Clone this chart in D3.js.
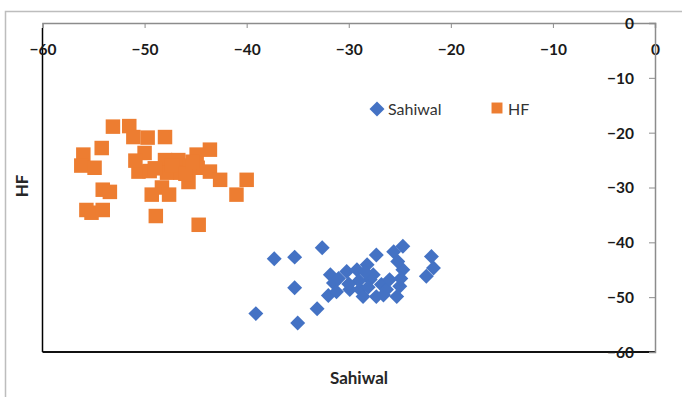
<!DOCTYPE html>
<html>
<head>
<meta charset="utf-8">
<script src="https://cdn.jsdelivr.net/npm/d3@7"></script>
<style>
  html, body { margin: 0; padding: 0; background: #fff; }
  svg { display: block; }
  text { font-family: Lato, "Open Sans", sans-serif; }
</style>
</head>
<body>
<svg id="chart" width="682" height="397"></svg>
<script>
const xTicks = [-60, -50, -40, -30, -20, -10, 0];
const yTicks = [0, -10, -20, -30, -40, -50, -60];
const seriesNames = ["Sahiwal", "HF"];

const sahiwalX = [-32.6,-37.3,-35.3,-35.3,-39.1,-35.0,-33.1,-31.8,-31.5,-32.0,-30.2,-29.2,-29.9,-28.9,-28.2,-27.3,-27.9,-27.3,-26.8,-25.6,-24.7,-24.7,-25.3,-25.0,-26.3,-21.9,-21.7,-22.4,-27.6,-28.6,-31.2,-29.0,-28.1,-26.0,-25.2,-31.0,-30.0,-26.6,-28.4,-24.9];
const sahiwalY = [-41.0,-43.0,-42.7,-48.3,-53.0,-54.7,-52.1,-45.9,-47.4,-49.7,-45.3,-45.0,-48.6,-48.6,-44.1,-42.3,-46.8,-49.9,-47.7,-41.7,-40.7,-45.0,-49.9,-48.0,-48.6,-42.6,-44.7,-46.2,-45.9,-49.9,-49.0,-47.0,-48.2,-46.8,-43.5,-46.6,-47.6,-49.6,-45.4,-46.6];

const hfX = [-56.0,-54.2,-56.2,-54.9,-54.1,-53.4,-55.7,-55.2,-54.1,-53.1,-51.5,-51.1,-49.7,-48.0,-50.0,-50.6,-48.0,-46.7,-47.8,-46.5,-45.7,-44.9,-43.6,-44.8,-43.6,-42.6,-40.0,-41.0,-48.3,-49.3,-47.6,-48.9,-44.7,-50.9,-49.5,-45.6,-47.3,-46.0,-49.0,-45.3];
const hfY = [-24.0,-22.8,-26.0,-26.4,-30.4,-30.8,-34.1,-34.6,-34.1,-18.9,-18.8,-20.8,-20.9,-20.8,-23.7,-27.1,-25.0,-25.0,-27.3,-27.3,-29.0,-24.0,-23.1,-26.4,-27.1,-28.6,-28.6,-31.3,-30.0,-31.3,-31.3,-35.2,-36.8,-25.1,-27.0,-26.0,-26.0,-27.5,-26.5,-25.3];

const svg = d3.select("#chart");
const pLeft = 42.5, pRight = 655, pTop = 23, pBottom = 352;
const x = d3.scaleLinear().domain([-60, 0]).range([pLeft, pRight]);
const y = d3.scaleLinear().domain([0, -60]).range([pTop, pBottom]);

// outer chart frame
svg.append("path")
  .attr("d", `M5.5,397 L5.5,11.5 L682,11.5`)
  .attr("fill", "none").attr("stroke", "#bdbdbd").attr("stroke-width", 1.5);

// plot-area left/bottom border (black)
svg.append("line").attr("x1", pLeft).attr("x2", pLeft).attr("y1", 28).attr("y2", pBottom)
  .attr("stroke", "#000").attr("stroke-width", 1.5);
svg.append("line").attr("x1", pLeft).attr("x2", pRight).attr("y1", pBottom).attr("y2", pBottom)
  .attr("stroke", "#111").attr("stroke-width", 2);

const tickFont = "Lato, sans-serif";

// X axis at top (crosses at y = 0)
const xAxis = d3.axisBottom(x).tickValues(xTicks).tickSize(5).tickFormat(d3.format("d"));
const gx = svg.append("g").attr("transform", `translate(0,${y(0)})`).call(xAxis);
gx.select(".domain").attr("stroke", "#8c8c8c").attr("stroke-width", 1.5);
gx.selectAll(".tick line").attr("stroke", "#8c8c8c").attr("stroke-width", 1);
gx.selectAll(".tick text").attr("y", 32).attr("dy", 0)
  .attr("font-size", 15.5).attr("font-weight", 700).attr("fill", "#1a1a1a")
  .style("font-family", tickFont);

// Y axis at right (crosses at x = 0)
const yAxis = d3.axisLeft(y).tickValues(yTicks).tickSize(6).tickFormat(d3.format("d"));
const gy = svg.append("g").attr("transform", `translate(${x(0)},0)`).call(yAxis);
gy.select(".domain").attr("stroke", "#8c8c8c").attr("stroke-width", 1.5);
gy.selectAll(".tick line").attr("stroke", "#8c8c8c").attr("stroke-width", 1);
gy.selectAll(".tick text").attr("x", -21).attr("dy", "0.35em")
  .attr("font-size", 15.5).attr("font-weight", 700).attr("fill", "#1a1a1a")
  .style("font-family", tickFont);

// series
const sahiwal = sahiwalX.map((v, i) => ({x: v, y: sahiwalY[i]}));
const hf = hfX.map((v, i) => ({x: v, y: hfY[i]}));
const blue = "#4472C4", orange = "#ED7D31";
const diamond = d3.symbol().type(d3.symbolSquare).size(112);
const square = d3.symbol().type(d3.symbolSquare).size(210);

svg.append("g").selectAll("path").data(hf).join("path")
  .attr("d", square)
  .attr("transform", d => `translate(${x(d.x)},${y(d.y)})`)
  .attr("fill", orange);

svg.append("g").selectAll("path").data(sahiwal).join("path")
  .attr("d", diamond)
  .attr("transform", d => `translate(${x(d.x)},${y(d.y)}) rotate(45)`)
  .attr("fill", blue);

// legend
const lg = svg.append("g");
lg.append("path").attr("d", diamond).attr("transform", "translate(377,109) rotate(45)").attr("fill", blue);
lg.append("text").attr("x", 388).attr("y", 109).attr("dy", "0.35em")
  .attr("font-size", 16).attr("fill", "#333").text(seriesNames[0]);
lg.append("path").attr("d", d3.symbol().type(d3.symbolSquare).size(120))
  .attr("transform", "translate(497,108)").attr("fill", orange);
lg.append("text").attr("x", 508).attr("y", 109).attr("dy", "0.35em")
  .attr("font-size", 16).attr("fill", "#333").text(seriesNames[1]);

// axis titles
svg.append("text").attr("x", 359).attr("y", 378).attr("dy", "0.35em")
  .attr("text-anchor", "middle").attr("font-size", 17).attr("font-weight", 700).attr("fill", "#262626")
  .text("Sahiwal");
svg.append("text").attr("transform", "translate(22,186) rotate(-90)").attr("dy", "0.35em")
  .attr("text-anchor", "middle").attr("font-size", 17).attr("font-weight", 700).attr("fill", "#262626")
  .text("HF");
</script>
</body>
</html>
